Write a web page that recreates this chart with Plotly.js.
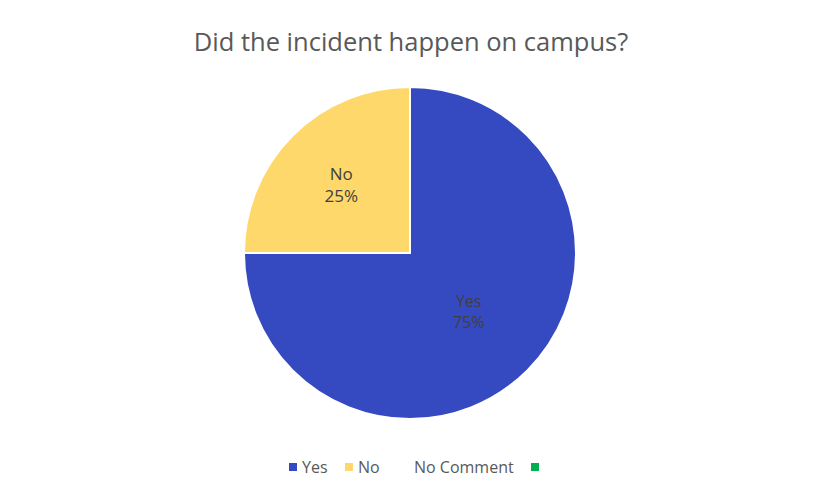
<!DOCTYPE html>
<html>
<head>
<meta charset="utf-8">
<script src="https://cdn.plot.ly/plotly-3.0.1.min.js"></script>
<style>
  html, body { margin: 0; padding: 0; background: #fff; }
  #chart { width: 822px; height: 503px; }
</style>
</head>
<body>
<div id="chart"></div>
<script>
// Data
const labels = ['Yes', 'No', 'No Comment', ''];
const values = [75, 25, 0, 0];
const colors = ['#3549C0', '#FED86A', '#FFFFFF', '#00B050'];

const W = 822, H = 503;
const TEXT = '#404040';
const GREY = '#595959';
const FONT = 'Open Sans, Noto Sans, sans-serif';

// pie geometry in pixels: centre (410, 253), radius 166
const cx = 410, cy = 253, r = 166;

const trace = {
  type: 'pie',
  labels: labels,
  values: values,
  sort: false,
  direction: 'clockwise',
  rotation: 0,
  marker: { colors: colors, line: { color: '#ffffff', width: 2 } },
  texttemplate: '%{label}<br>%{percent}',
  textposition: 'inside',
  insidetextorientation: 'horizontal',
  textfont: { family: FONT, size: [16, 17, 16, 16], color: TEXT },
  hoverinfo: 'skip',
  showlegend: false,
  domain: {
    x: [(cx - r) / W, (cx + r) / W],
    y: [(H - cy - r) / H, (H - cy + r) / H]
  }
};

// hand-made legend, one entry per label (Excel style: small squares)
const legendX = [289, 345, 401, 531];   // marker left edge, px
const legendY = 467;                     // marker centre, px
const shapes = [], annotations = [];
labels.forEach((l, i) => {
  shapes.push({
    type: 'rect', xref: 'paper', yref: 'paper', line: { width: 0 },
    fillcolor: colors[i],
    x0: legendX[i] / W, x1: (legendX[i] + 8) / W,
    y0: (H - legendY - 4) / H, y1: (H - legendY + 4) / H
  });
  if (l) annotations.push({
    xref: 'paper', yref: 'paper', showarrow: false,
    x: (legendX[i] + 11) / W, y: (H - legendY) / H,
    xanchor: 'left', yanchor: 'middle',
    text: l, font: { family: FONT, size: 16, color: GREY }
  });
});

const layout = {
  width: W, height: H,
  margin: { l: 0, r: 0, t: 0, b: 0 },
  paper_bgcolor: '#ffffff',
  title: {
    text: 'Did the incident happen on campus?',
    font: { family: FONT, size: 25.5, color: GREY },
    x: 0.5, xanchor: 'center', y: (H - 42) / H, yanchor: 'middle'
  },
  shapes: shapes,
  annotations: annotations
};

Plotly.newPlot('chart', [trace], layout, { displayModeBar: false, staticPlot: true });
</script>
</body>
</html>
